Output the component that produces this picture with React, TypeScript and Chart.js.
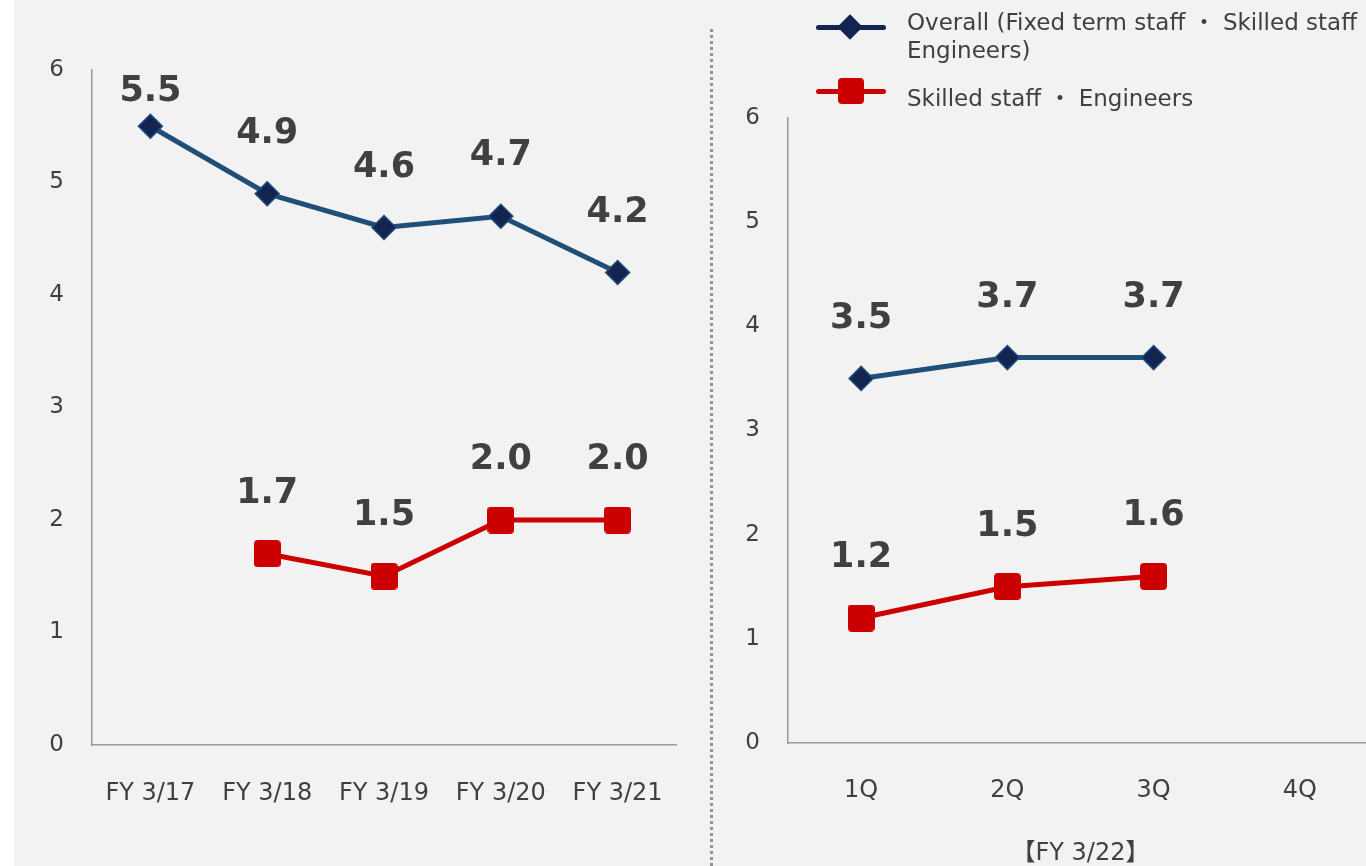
import React, { useEffect, useRef } from "react";
import { Chart, registerables } from "chart.js";

Chart.register(...registerables);

// ---- data ----
const annualLabels = ["FY 3/17", "FY 3/18", "FY 3/19", "FY 3/20", "FY 3/21"];
const annualOverall: (number | null)[] = [5.5, 4.9, 4.6, 4.7, 4.2];
const annualSkilled: (number | null)[] = [null, 1.7, 1.5, 2.0, 2.0];

const quarterLabels = ["1Q", "2Q", "3Q", "4Q"];
const quarterOverall: (number | null)[] = [3.5, 3.7, 3.7, null];
const quarterSkilled: (number | null)[] = [1.2, 1.5, 1.6, null];

const yMin = 0;
const yMax = 6;
const yStep = 1;

const legendOverallLines = ["Overall (Fixed term staff ・ Skilled staff ・", "Engineers)"];
const legendSkilled = "Skilled staff ・ Engineers";
const quarterTitle = "【FY 3/22】";

// ---- styles ----
const FONT = "'DejaVu Sans', 'Noto Sans CJK JP', sans-serif";
const TEXT = "#404040";
const BLUE_LINE = "#1F4E79";
const BLUE_MARK = "#12244F";
const RED = "#CC0000";
const AXIS = "#9a9a9a";

function makeSquare(size: number, radius: number, color: string): HTMLCanvasElement {
  const c = document.createElement("canvas");
  c.width = size;
  c.height = size;
  const g = c.getContext("2d")!;
  g.fillStyle = color;
  g.beginPath();
  (g as any).roundRect(0, 0, size, size, radius);
  g.fill();
  return c;
}

const valueLabels = {
  id: "valueLabels",
  afterDatasetsDraw(chart: any) {
    const ctx = chart.ctx;
    const top = chart.chartArea.top;
    ctx.save();
    ctx.font = `bold 35px ${FONT}`;
    ctx.fillStyle = TEXT;
    ctx.textAlign = "center";
    ctx.textBaseline = "middle";
    chart.data.datasets.forEach((ds: any, i: number) => {
      const meta = chart.getDatasetMeta(i);
      meta.data.forEach((el: any, j: number) => {
        const v = ds.data[j];
        if (v == null) return;
        const y = Math.max(el.y - 60, top + 22);
        ctx.fillText(Number(v).toFixed(1), el.x, y);
      });
    });
    ctx.restore();
  },
};

function buildConfig(
  labels: string[],
  overall: (number | null)[],
  skilled: (number | null)[],
  square: HTMLCanvasElement,
  opts: { yWidth: number; xHeight: number; top: number; xPad: number; title?: string }
): any {
  return {
    type: "line",
    data: {
      labels,
      datasets: [
        {
          label: "overall",
          data: overall,
          borderColor: BLUE_LINE,
          borderWidth: 5,
          pointStyle: "rectRot",
          pointRadius: 12,
          pointBackgroundColor: BLUE_MARK,
          pointBorderColor: BLUE_LINE,
          pointBorderWidth: 1.5,
          tension: 0,
          spanGaps: false,
        },
        {
          label: "skilled",
          data: skilled,
          borderColor: RED,
          borderWidth: 5,
          pointStyle: square,
          pointRadius: 14,
          pointBackgroundColor: RED,
          tension: 0,
          spanGaps: false,
        },
      ],
    },
    options: {
      responsive: false,
      maintainAspectRatio: false,
      animation: false,
      events: [],
      layout: { padding: { top: opts.top, right: 24, left: 0, bottom: 0 } },
      plugins: { legend: { display: false }, tooltip: { enabled: false } },
      scales: {
        x: {
          type: "category",
          offset: true,
          grid: { display: false, drawTicks: false },
          border: { display: true, color: AXIS, width: 1.5 },
          ticks: {
            padding: opts.xPad,
            color: TEXT,
            font: { family: FONT, size: 24 },
            maxRotation: 0,
            autoSkip: false,
          },
          title: opts.title
            ? {
                display: true,
                text: opts.title,
                color: TEXT,
                font: { family: FONT, size: 24 },
                padding: { top: 0, bottom: -2 },
              }
            : { display: false },
          afterFit(s: any) {
            s.height = opts.xHeight;
          },
        },
        y: {
          min: yMin,
          max: yMax,
          grid: { display: false, drawTicks: false },
          border: { display: true, color: AXIS, width: 1.5 },
          ticks: {
            stepSize: yStep,
            padding: 28,
            color: TEXT,
            font: { family: FONT, size: 23 },
          },
          afterFit(s: any) {
            s.width = opts.yWidth;
          },
        },
      },
    },
    plugins: [valueLabels],
  };
}

export default function App() {
  const leftRef = useRef<HTMLCanvasElement>(null);
  const rightRef = useRef<HTMLCanvasElement>(null);

  useEffect(() => {
    const sq = makeSquare(27, 4, RED);
    const left = new Chart(
      leftRef.current!,
      buildConfig(annualLabels, annualOverall, annualSkilled, sq, {
        yWidth: 92,
        xHeight: 121,
        top: 70,
        xPad: 34,
      })
    );
    const right = new Chart(
      rightRef.current!,
      buildConfig(quarterLabels, quarterOverall, quarterSkilled, sq, {
        yWidth: 77,
        xHeight: 123,
        top: 118,
        xPad: 33,
        title: quarterTitle,
      })
    );
    return () => {
      left.destroy();
      right.destroy();
    };
  }, []);

  const textStyle: React.CSSProperties = {
    position: "absolute",
    fontFamily: FONT,
    fontSize: 23,
    lineHeight: "28px",
    color: TEXT,
    whiteSpace: "nowrap",
  };

  return (
    <div
      style={{
        position: "fixed",
        left: 0,
        top: 0,
        width: 1366,
        height: 866,
        overflow: "hidden",
        background: "#ffffff",
      }}
    >
      <div style={{ position: "absolute", left: 14, top: 0, right: 0, bottom: 0, background: "#f2f2f2" }} />
      <div
        style={{
          position: "absolute",
          left: 710,
          top: 29,
          height: 837,
          width: 0,
          borderLeft: "3px dotted #929292",
        }}
      />
      <canvas ref={leftRef} width={700} height={866} style={{ position: "absolute", left: 0, top: 0 }} />
      <canvas ref={rightRef} width={686} height={866} style={{ position: "absolute", left: 711, top: 0 }} />

      {/* legend */}
      <div style={{ position: "absolute", left: 816, top: 24.5, width: 70, height: 5, borderRadius: 3, background: BLUE_MARK }} />
      <div
        style={{
          position: "absolute",
          left: 841,
          top: 18,
          width: 18,
          height: 18,
          background: BLUE_MARK,
          transform: "rotate(45deg)",
        }}
      />
      <div style={{ ...textStyle, left: 907, top: 8 }}>
        {legendOverallLines[0]}
        <br />
        {legendOverallLines[1]}
      </div>
      <div style={{ position: "absolute", left: 816, top: 88.5, width: 70, height: 5, borderRadius: 3, background: RED }} />
      <div style={{ position: "absolute", left: 838, top: 78, width: 26, height: 26, borderRadius: 4, background: RED }} />
      <div style={{ ...textStyle, left: 907, top: 84 }}>{legendSkilled}</div>
    </div>
  );
}
